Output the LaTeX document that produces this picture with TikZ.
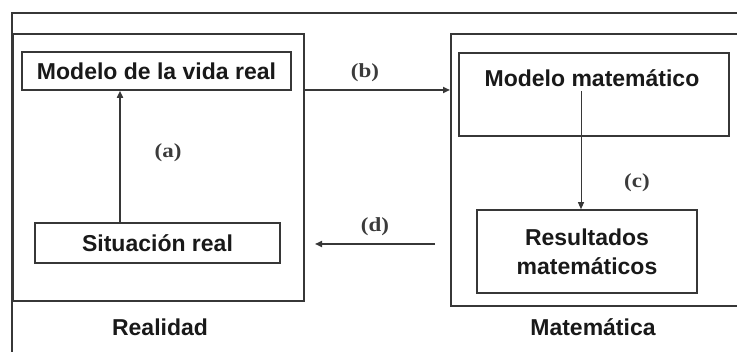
\documentclass[tikz,border=0pt]{standalone}
\usepackage{fontspec}
\setmainfont{Liberation Sans}
\newfontfamily\lblfont[FakeStretch=1.15]{Liberation Serif}
\usetikzlibrary{arrows.meta}
\definecolor{ln}{RGB}{55,55,55}
\definecolor{tx}{RGB}{25,25,25}
\begin{document}
\begin{tikzpicture}[x=1pt,y=-1pt,
  frame/.style={draw=ln,line width=1.6pt},
  box/.style={draw=ln,line width=1.6pt,inner sep=0pt,text=tx,font=\fontsize{23}{27}\selectfont\bfseries},
  txt/.style={inner sep=0pt,text=tx,font=\fontsize{23}{29}\selectfont\bfseries,align=center},
  lbl/.style={inner sep=0pt,text=tx!85,font=\fontsize{20}{22}\lblfont\bfseries},
  arr/.style={draw=ln,line width=1.6pt,-{Triangle[length=7pt,width=6pt]}}]
\useasboundingbox (0,0) rectangle (737,352);
\clip (0,0) rectangle (737,352);
% outer frame
\draw[frame] (12,13) rectangle (770,370);
% inner region boxes
\node[frame,minimum width=291pt,minimum height=267pt,anchor=north west] (real) at (12,33) {};
\node[frame,minimum width=320pt,minimum height=272pt,anchor=north west] (mate) at (450,33) {};
% boxes
\node[box,minimum width=269pt,minimum height=38pt] (mvr) at (156.5,71) {Modelo de la vida real};
\node[box,minimum width=245pt,minimum height=40pt] (sr) at (157.5,243) {Situación real};
\node[box,minimum width=270pt,minimum height=83pt,anchor=north] (mm) at (594,52) {};
\node[txt] (mmt) at (592,78) {Modelo matemático};
\node[box,minimum width=220pt,minimum height=83pt] (res) at (587,251.5) {};
\node[txt] (rest) at (587,252) {Resultados\\matemáticos};
% arrows
\draw[arr] (sr.north -| 120,0) -- (mvr.south -| 120,0);
\coordinate (bstart) at (303,90);
\draw[arr] (bstart) -- (mate.west |- bstart);
\coordinate (cstart) at (581,91);
\draw[draw=ln,line width=1pt,-{Triangle[length=7pt,width=6pt]}] (cstart) -- (res.north -| cstart);
\coordinate (dstart) at (435,244);
\coordinate (dend) at (315,244);
\draw[arr] (dstart) -- (dend);
% labels
\node[lbl] (la) at (168,153) {(a)};
\node[lbl] (lb) at (365,73) {(b)};
\node[lbl] (lc) at (637,183) {(c)};
\node[lbl] (ld) at (375,227) {(d)};
\node[txt] (realidad) at (160,327) {Realidad};
\node[txt] (matematica) at (593,327) {Matemática};
\end{tikzpicture}
\end{document}
